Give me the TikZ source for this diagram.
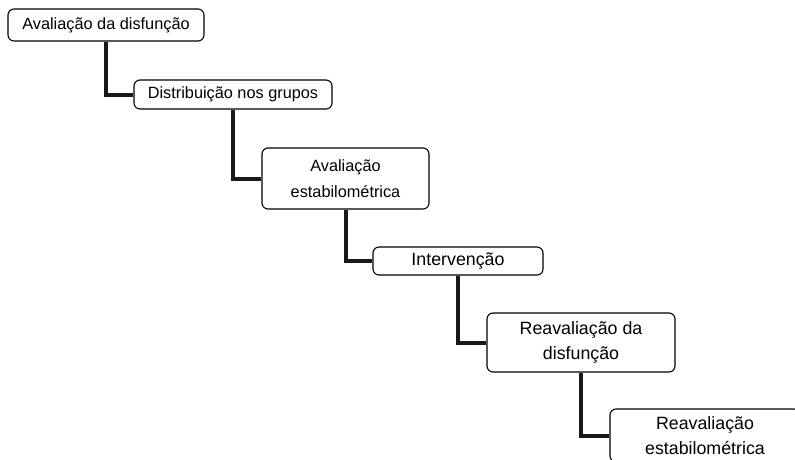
\documentclass[tikz,border=0pt]{standalone}
\usepackage{fontspec}
\setmainfont{Liberation Sans}
\begin{document}
\begin{tikzpicture}[x=1pt,y=-1pt,
  box/.style={draw=black, line width=1.1pt, rounded corners=6pt, fill=white, inner sep=0pt, align=center},
  conn/.style={draw=black!90, line width=4pt},
  fA/.style={font=\fontsize{16.3}{26}\selectfont},
  fB/.style={font=\fontsize{17.8}{24.5}\selectfont}]
\useasboundingbox (0,0) rectangle (795,459);
\clip (0,0) rectangle (795,459);
\fill[white] (0,0) rectangle (795,459);
\node[box, fA, minimum width=196pt, minimum height=32pt] (b1) at (106,25) {Avaliação da disfunção};
\node[box, fA, minimum width=198pt, minimum height=29pt] (b2) at (233,94.5) {Distribuição nos grupos};
\node[box, fA, minimum width=167pt, minimum height=61pt] (b3) at (345.5,178.5) {Avaliação\\estabilométrica};
\node[box, fB, minimum width=170pt, minimum height=28pt] (b4) at (458,261) {Intervenção};
\node[box, fB, minimum width=188pt, minimum height=59pt] (b5) at (581,342.5) {Reavaliação da\\disfunção};
\node[box, fB, minimum width=190pt, minimum height=53pt] (b6) at (705,435.5) {Reavaliação\\estabilométrica};
\begin{scope}[on background layer/.try]
\end{scope}
\draw[conn] (b1.south) |- (b2.west);
\draw[conn] (b2.south) |- (b3.west);
\draw[conn] (b3.south) |- (b4.west);
\draw[conn] (b4.south) |- (b5.west);
\draw[conn] (b5.south) |- (b6.west);
\end{tikzpicture}
\end{document}
